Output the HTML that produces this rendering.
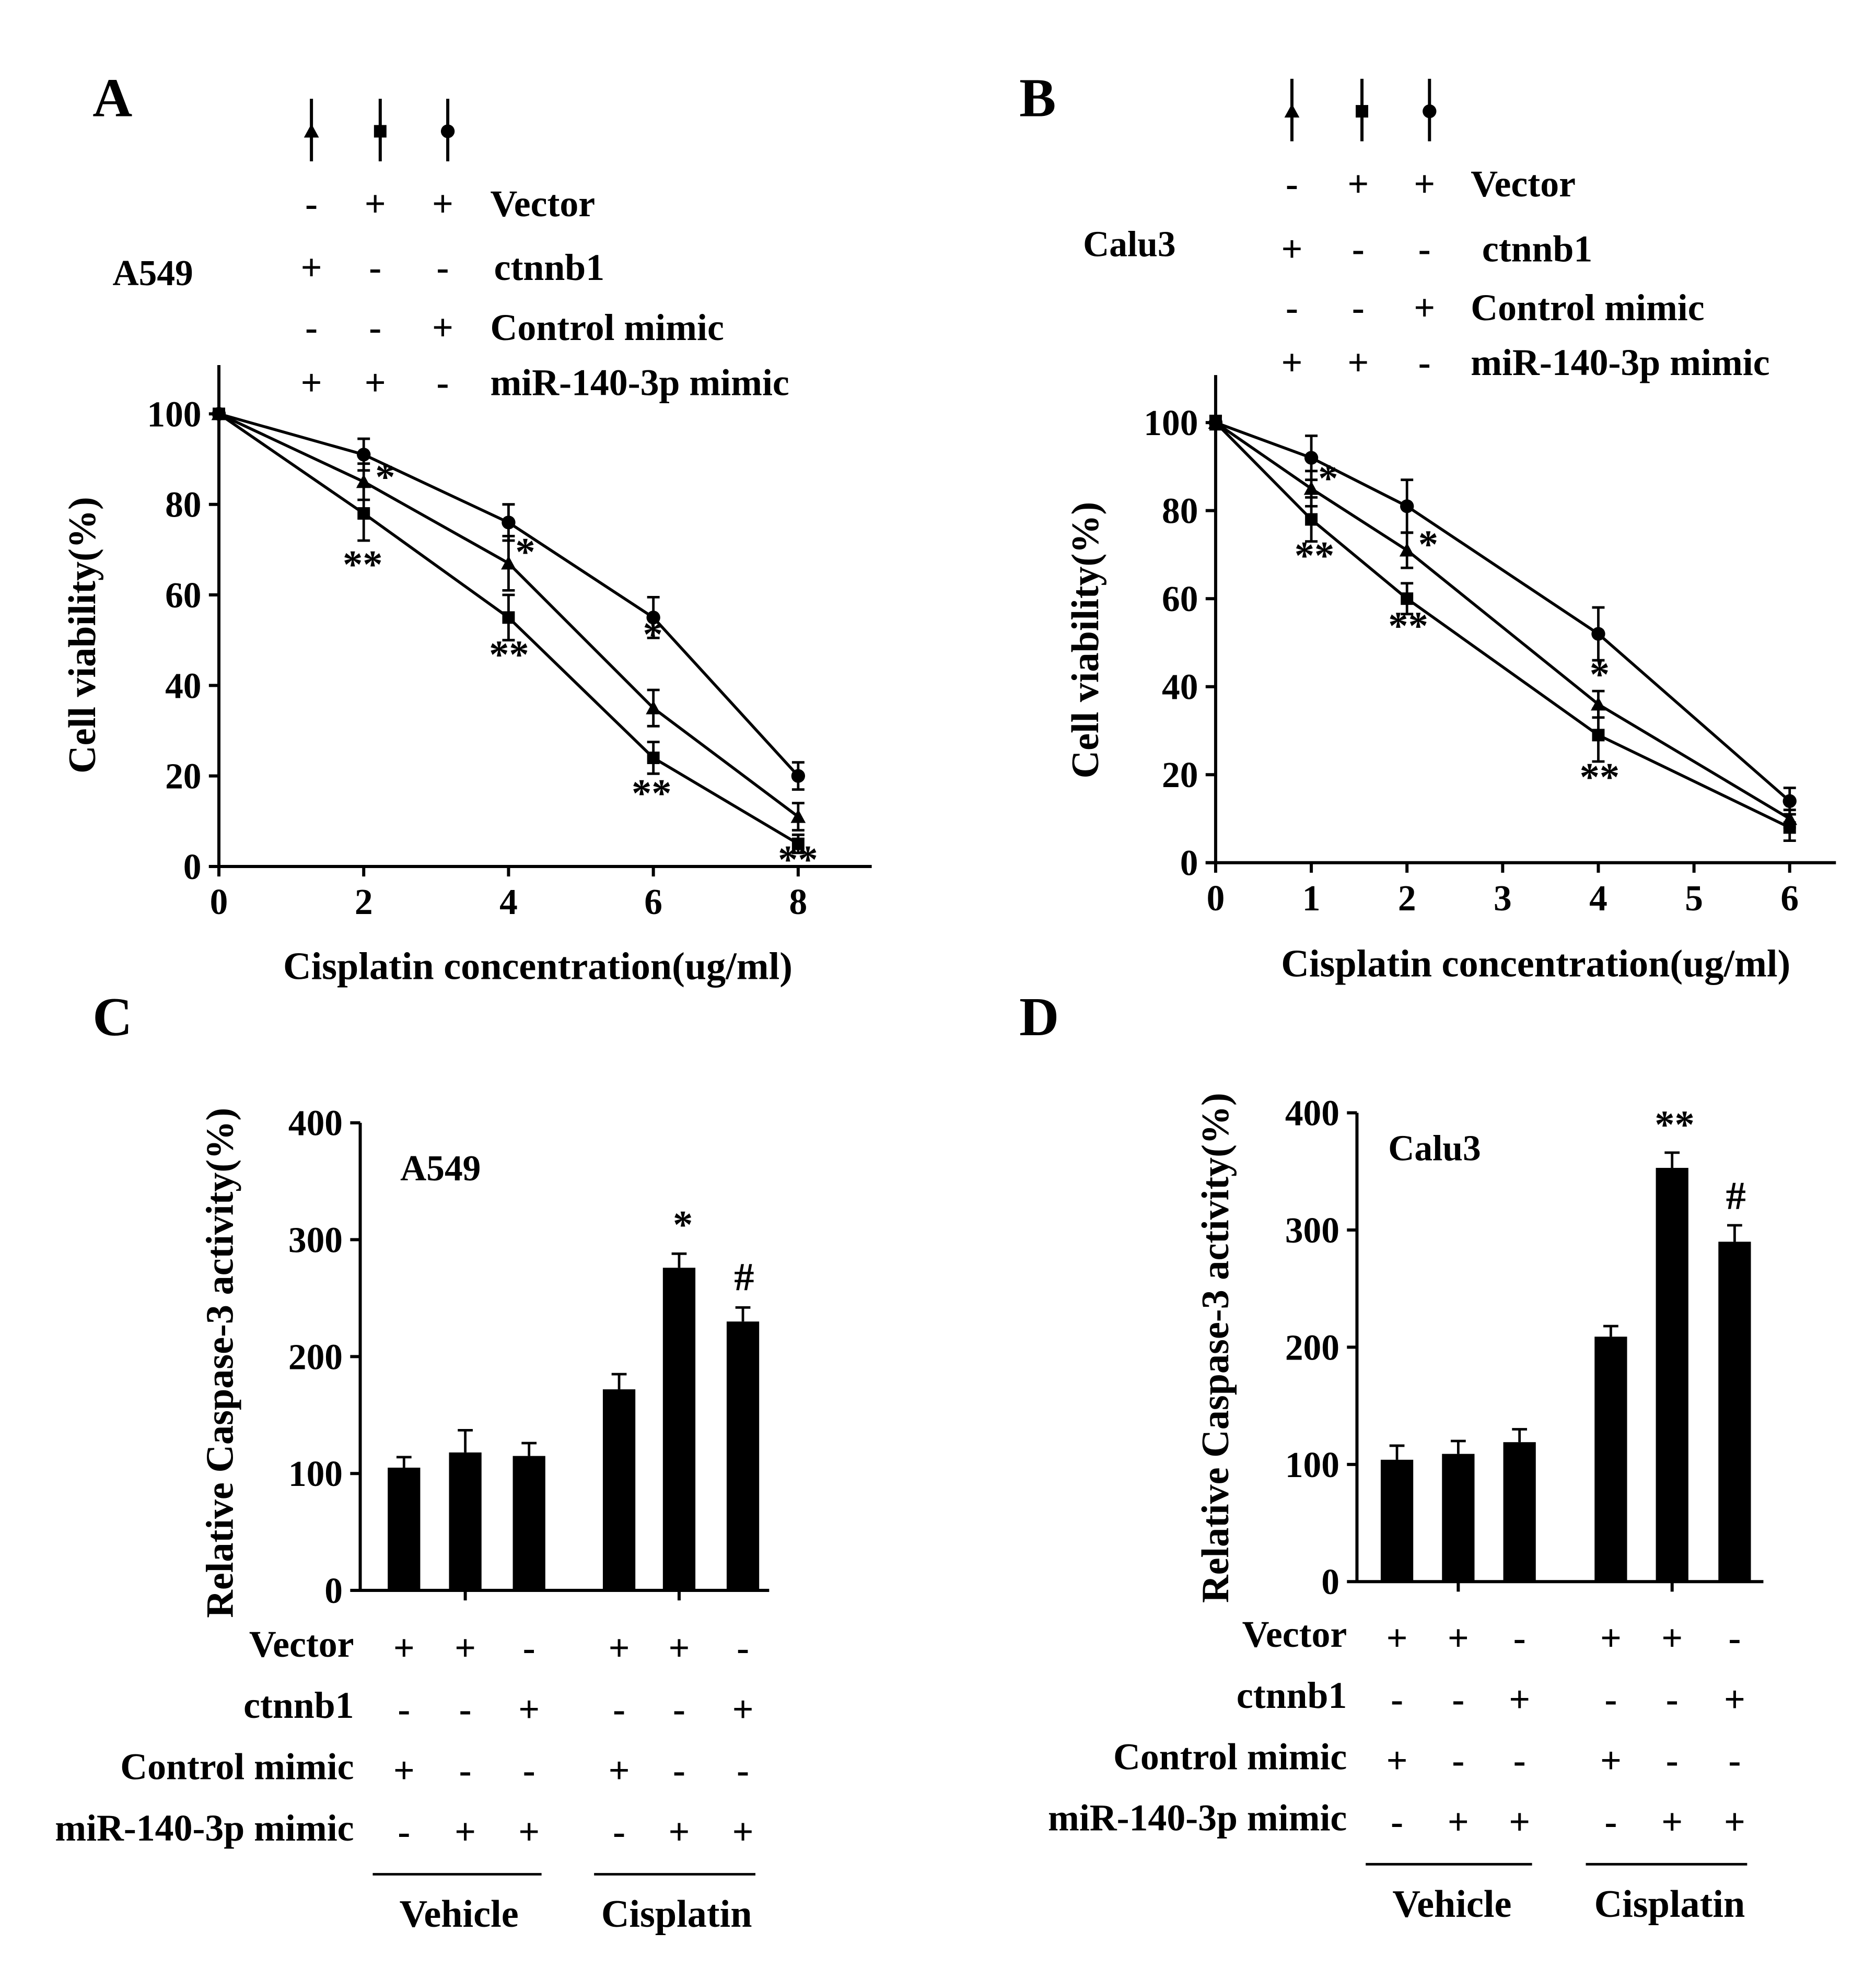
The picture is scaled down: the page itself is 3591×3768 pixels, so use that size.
<!DOCTYPE html>
<html><head><meta charset="utf-8"><style>
html,body{margin:0;padding:0;background:#fff}
svg{display:block}
text{font-family:"Liberation Serif",serif;font-weight:bold;fill:#000}
</style></head><body>
<svg id="fig" width="3591" height="3768" viewBox="0 0 1500 1574" xmlns="http://www.w3.org/2000/svg"></svg>
<script>
// Panel A data
const aX = [0, 2, 4, 6, 8];
const aCircle = [100, 91, 76, 55, 20];
const aCircleErr = [0, 3.5, 4, 4.5, 3];
const aTri = [100, 85, 67, 35, 11];
const aTriErr = [0, 4, 6, 4, 3];
const aSq = [100, 78, 55, 24, 5];
const aSqErr = [0, 6, 5, 3.5, 2];
const aXTicks = [0, 2, 4, 6, 8];
const aYTicks = [0, 20, 40, 60, 80, 100];
// Panel B data
const bX = [0, 1, 2, 4, 6];
const bCircle = [100, 92, 81, 52, 14];
const bCircleErr = [1.5, 5, 6, 6, 3];
const bTri = [100, 85, 71, 36, 10];
const bTriErr = [1.5, 4, 4, 3, 2];
const bSq = [100, 78, 60, 29, 8];
const bSqErr = [1.5, 5, 3.5, 6, 3];
const bXTicks = [0, 1, 2, 3, 4, 5, 6];
const bYTicks = [0, 20, 40, 60, 80, 100];
// Panel C data
const cVals = [105, 118, 115, 172, 276, 230];
const cErr = [9, 19, 11, 13, 12, 12];
const cYTicks = [0, 100, 200, 300, 400];
// Panel D data
const dVals = [104, 109, 119, 209, 353, 290];
const dErr = [12, 11, 11, 9, 13, 14];
const dYTicks = [0, 100, 200, 300, 400];
const barSigns = [
  ["Vector", ["+","+","-","+","+","-"]],
  ["ctnnb1", ["-","-","+","-","-","+"]],
  ["Control mimic", ["+","-","-","+","-","-"]],
  ["miR-140-3p mimic", ["-","+","+","-","+","+"]]
];

const svg = document.getElementById('fig');
const NS = 'http://www.w3.org/2000/svg';
function el(tag, attrs, parent) {
  const e = document.createElementNS(NS, tag);
  for (const k in attrs) e.setAttribute(k, attrs[k]);
  (parent || svg).appendChild(e);
  return e;
}
function txt(s, x, y, size, anchor, parent) {
  const t = el('text', {x: x, y: y, 'font-size': size, 'text-anchor': anchor || 'start'}, parent);
  t.textContent = s;
  return t;
}
function line(x1, y1, x2, y2, w, parent) {
  return el('line', {x1: x1, y1: y1, x2: x2, y2: y2, stroke: '#000', 'stroke-width': w || 2.5}, parent);
}
function marker(kind, x, y, parent) {
  if (kind === 'c') return el('circle', {cx: x, cy: y, r: 5.5, fill: '#000'}, parent);
  if (kind === 's') return el('rect', {x: x - 5, y: y - 5, width: 10, height: 10, fill: '#000'}, parent);
  return el('polygon', {points: `${x},${y-6} ${x+6},${y+5} ${x-6},${y+5}`, fill: '#000'}, parent);
}

function linePanel(name, cfg) {
  const g = el('g', {});
  
  
  const sx = v => cfg.x0 + (v - cfg.xmin) * cfg.xs;
  const sy = v => cfg.y0 - v * cfg.ys;
  line(cfg.x0, cfg.yTop, cfg.x0, cfg.y0, 2.5, g);
  line(cfg.x0 - 8, cfg.y0, cfg.xEnd, cfg.y0, 2.5, g);
  cfg.yTicks.forEach(v => {
    line(cfg.x0 - 8, sy(v), cfg.x0, sy(v), 2.5, g);
    txt(String(v), cfg.x0 - 14, sy(v) + 10, 29, 'end', g);
  });
  cfg.xTicks.forEach(v => {
    line(sx(v), cfg.y0, sx(v), cfg.y0 + 8, 2.5, g);
    txt(String(v), sx(v), cfg.y0 + 38, 29, 'middle', g);
  });
  cfg.series.forEach(s => {
    const ser = el('g', {}, g);
    
    
    const pts = cfg.xs_data.map((x, i) => `${sx(x)},${sy(s.v[i])}`).join(' ');
    el('polyline', {points: pts, fill: 'none', stroke: '#000', 'stroke-width': 2.3}, ser);
    cfg.xs_data.forEach((x, i) => {
      const e = s.e[i];
      if (e > 0) {
        line(sx(x), sy(s.v[i] + e), sx(x), sy(s.v[i] - e), 2, ser);
        line(sx(x) - 5, sy(s.v[i] + e), sx(x) + 5, sy(s.v[i] + e), 2, ser);
        line(sx(x) - 5, sy(s.v[i] - e), sx(x) + 5, sy(s.v[i] - e), 2, ser);
      }
      marker(s.k, sx(x), sy(s.v[i]), ser);
    });
  });
  return g;
}

linePanel('panel-a-line-chart', {x0: 175, y0: 693, ys: 3.62, xs: 57.9, xmin: 0, yTop: 292, xEnd: 697,
  yTicks: aYTicks, xTicks: aXTicks, xs_data: aX,
  series: [{name:'series-circle', k:'c', v:aCircle, e:aCircleErr},
           {name:'series-triangle', k:'t', v:aTri, e:aTriErr},
           {name:'series-square', k:'s', v:aSq, e:aSqErr}]});
linePanel('panel-b-line-chart', {x0: 972, y0: 690, ys: 3.52, xs: 76.5, xmin: 0, yTop: 300, xEnd: 1468,
  yTicks: bYTicks, xTicks: bXTicks, xs_data: bX,
  series: [{name:'series-circle', k:'c', v:bCircle, e:bCircleErr},
           {name:'series-triangle', k:'t', v:bTri, e:bTriErr},
           {name:'series-square', k:'s', v:bSq, e:bSqErr}]});

function barPanel(name, cfg) {
  const g = el('g', {});
  
  
  const sy = v => cfg.y0 - v * cfg.ys;
  line(cfg.x0, sy(400), cfg.x0, cfg.y0, 2.5, g);
  line(cfg.x0, cfg.y0, cfg.xEnd, cfg.y0, 2.5, g);
  cfg.yTicks.forEach(v => {
    line(cfg.x0 - 8, sy(v), cfg.x0, sy(v), 2.5, g);
    txt(String(v), cfg.x0 - 14, sy(v) + 10, 29, 'end', g);
  });
  line(cfg.cx[1], cfg.y0, cfg.cx[1], cfg.y0 + 8, 2.5, g);
  line(cfg.cx[4], cfg.y0, cfg.cx[4], cfg.y0 + 8, 2.5, g);
  cfg.vals.forEach((v, i) => {
    const b = el('rect', {x: cfg.cx[i] - 13, y: sy(v), width: 26, height: v * cfg.ys, fill: '#000'}, g);
    
    
    const e = cfg.err[i];
    line(cfg.cx[i], sy(v), cfg.cx[i], sy(v + e), 2, g);
    line(cfg.cx[i] - 6, sy(v + e), cfg.cx[i] + 6, sy(v + e), 2, g);
  });
  barSigns.forEach((row, r) => {
    const yy = cfg.signY + r * cfg.signStep;
    txt(row[0], cfg.labelX, yy, 30, 'end', g);
    row[1].forEach((s, i) => txt(s, cfg.cx[i], yy + 3, 30, 'middle', g));
  });
  const ly = cfg.signY + 3 * cfg.signStep + 27;
  line(cfg.cx[0] - 25, ly, cfg.cx[2] + 10, ly, 2, g);
  line(cfg.cx[3] - 20, ly, cfg.cx[5] + 10, ly, 2, g);
  txt('Vehicle', cfg.cx[1] - 5, ly + 42, 31, 'middle', g);
  txt('Cisplatin', cfg.cx[4] - 2, ly + 42, 31, 'middle', g);
  return g;
}

barPanel('panel-c-bar-chart', {x0: 288, y0: 1272, ys: 0.935, xEnd: 615, cx: [323,372,423,495,543,594],
  vals: cVals, err: cErr, yTicks: cYTicks, signY: 1325, signStep: 49, labelX: 283});
barPanel('panel-d-bar-chart', {x0: 1085, y0: 1265, ys: 0.9375, xEnd: 1410, cx: [1117,1166,1215,1288,1337,1387],
  vals: dVals, err: dErr, yTicks: dYTicks, signY: 1317, signStep: 49, labelX: 1077});

txt('A', 74, 93, 44, 'start');
txt('B', 815, 93, 44, 'start');
txt('C', 74, 828, 44, 'start');
txt('D', 815, 828, 44, 'start');
txt('A549', 90, 228, 29);
txt('Calu3', 866, 205, 29);
txt('A549', 320, 944, 29);
txt('Calu3', 1110, 928, 29);

function legendCol(x, yTop, kind, name) {
  const g = el('g', {});
  
  
  line(x, yTop, x, yTop + 50, 2.5, g);
  marker(kind, x, yTop + 26, g);
  return g;
}
legendCol(249, 79, 't', 'legend-triangle');
legendCol(304, 79, 's', 'legend-square');
legendCol(358, 79, 'c', 'legend-circle');
legendCol(1033, 63, 't', 'legend-triangle-b');
legendCol(1089, 63, 's', 'legend-square-b');
legendCol(1143, 63, 'c', 'legend-circle-b');

const legA = [["-","+","+","Vector"],["+","-","-","ctnnb1"],["-","-","+","Control mimic"],["+","+","-","miR-140-3p mimic"]];
const legAY = [173, 224, 272, 316];
const legAX = [249, 300, 354];
legA.forEach((r, i) => { r.slice(0,3).forEach((s, j) => txt(s, legAX[j], legAY[i], 30, 'middle')); txt(r[3], i === 1 ? 395 : 392, legAY[i], 30); });
const legBY = [157, 209, 256, 300];
const legBX = [1033, 1086, 1139];
legA.forEach((r, i) => { r.slice(0,3).forEach((s, j) => txt(s, legBX[j], legBY[i], 30, 'middle')); txt(r[3], i === 1 ? 1185 : 1176, legBY[i], 30); });

txt('Cisplatin concentration(ug/ml)', 430, 783, 31, 'middle');
txt('Cisplatin concentration(ug/ml)', 1228, 781, 31, 'middle');
el('text', {x: 0, y: 0, 'font-size': 31, 'text-anchor': 'middle', transform: 'translate(76,508) rotate(-90)'}).textContent = 'Cell viability(%)';
el('text', {x: 0, y: 0, 'font-size': 31, 'text-anchor': 'middle', transform: 'translate(878,512) rotate(-90)'}).textContent = 'Cell viability(%)';
el('text', {x: 0, y: 0, 'font-size': 31, 'text-anchor': 'middle', 'font-weight': 'normal', transform: 'translate(186,1090) rotate(-90)'}).textContent = 'Relative Caspase-3 activity(%)';
el('text', {x: 0, y: 0, 'font-size': 31, 'text-anchor': 'middle', 'font-weight': 'normal', transform: 'translate(982,1078) rotate(-90)'}).textContent = 'Relative Caspase-3 activity(%)';

const stars = [['*',308,392],['**',290,462],['*',420,452],['**',407,534],['*',522,518],['**',521,645],['**',638,698],
  ['*',1062,393],['**',1051,455],['*',1142,446],['**',1126,511],['*',1279,550],['**',1279,632],
  ['*',546,990],['#',595,1032],['**',1339,910],['#',1388,967]];
stars.forEach(s => txt(s[0], s[1], s[2], 32, 'middle'));
</script>
</body></html>
